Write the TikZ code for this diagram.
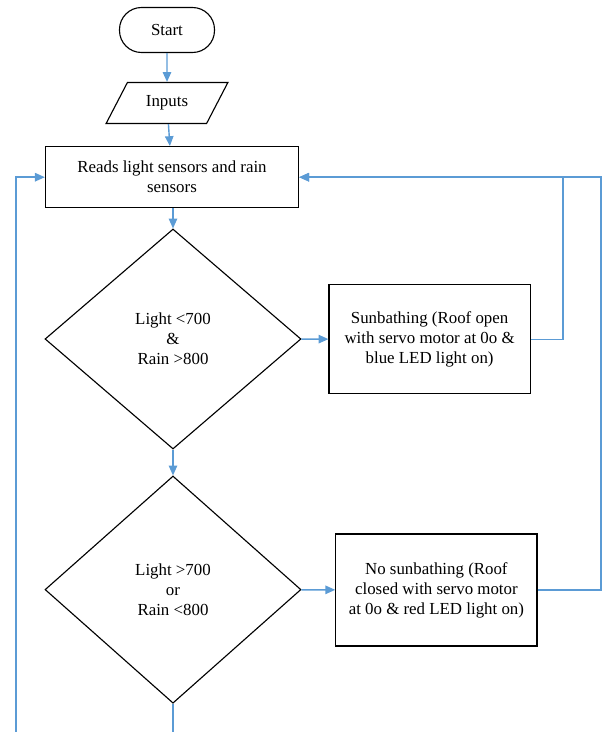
\documentclass[tikz,border=0pt]{standalone}
\usepackage{fontspec}
\setmainfont{Liberation Serif}
\usepackage{tikz}
\usetikzlibrary{shapes.geometric, arrows.meta, positioning}
\definecolor{flowblue}{HTML}{5B9BD5}
\tikzstyle{arrow} = [line width=1pt, -{Triangle[length=7pt, width=6pt]}, flowblue]
\tikzstyle{line} = [line width=1pt, flowblue]

\begin{document}
\begin{tikzpicture}[
    startstop/.style={rectangle, rounded corners=0.55cm, draw=black, line width=0.8pt, minimum width=2.375cm, minimum height=1.125cm, font=\fontsize{12}{14}\selectfont},
    io/.style={trapezium, trapezium left angle=60, trapezium right angle=120, trapezium stretches=true, draw=black, line width=0.8pt, minimum width=3.05cm, minimum height=1.025cm, font=\fontsize{12}{14}\selectfont},
    process/.style={rectangle, draw=black, line width=0.8pt, align=center, font=\fontsize{12}{14.2}\selectfont},
    decision/.style={diamond, draw=black, line width=0.8pt, inner sep=0pt, align=center, minimum width=6.4cm, font=\fontsize{12}{14.2}\selectfont},
]
\useasboundingbox (0,0) rectangle (15.1,-18.3);

% Start and inputs
\node[startstop] (start) at (4.175,-0.75) {Start};
\node[io] (inputs) at (4.175,-2.575) {Inputs};

% Read sensors
\node[process, minimum width=6.33cm, minimum height=1.53cm] (reads) at (4.3,-4.43) {Reads light sensors and rain\\sensors};

% First check
\node[decision, minimum height=5.5cm] (dec1) at (4.325,-8.475) {Light <700\\\&\\Rain >800};
\node[process, minimum width=5.03cm, minimum height=2.73cm] (sun) at (10.74,-8.48) {Sunbathing (Roof open\\with servo motor at 0o \&\\blue LED light on)};

% Second check
\node[decision, minimum height=5.68cm] (dec2) at (4.325,-14.74) {Light >700\\or\\Rain <800};
\node[process, minimum width=5.03cm, minimum height=2.8cm] (nosun) at (10.91,-14.75) {No sunbathing (Roof\\closed with servo motor\\at 0o \& red LED light on)};

% Loop coordinates
\coordinate (loopA) at (14.075,0);
\coordinate (loopB) at (15.025,0);
\coordinate (loopL) at (0.4,-18.3);
\coordinate (loopC) at (4.325,-18.3);

% Arrows
\draw[arrow] (start) -- (inputs);
\draw[arrow] (inputs) -- (reads);
\draw[arrow] (reads.south -| dec1.north) -- (dec1.north);
\draw[arrow] (dec1) -- (sun);
\draw[arrow] (dec1) -- (dec2);
\draw[arrow] (dec2) -- (nosun);
\draw[arrow] (sun.east) -| (loopA |- reads.east) -- (reads.east);
\draw[arrow] (nosun.east) -| (loopB |- reads.east) -- (reads.east);
\draw[arrow] (loopL) |- (reads.west);
\draw[line] (dec2.south) -- (loopC);

\end{tikzpicture}
\end{document}
